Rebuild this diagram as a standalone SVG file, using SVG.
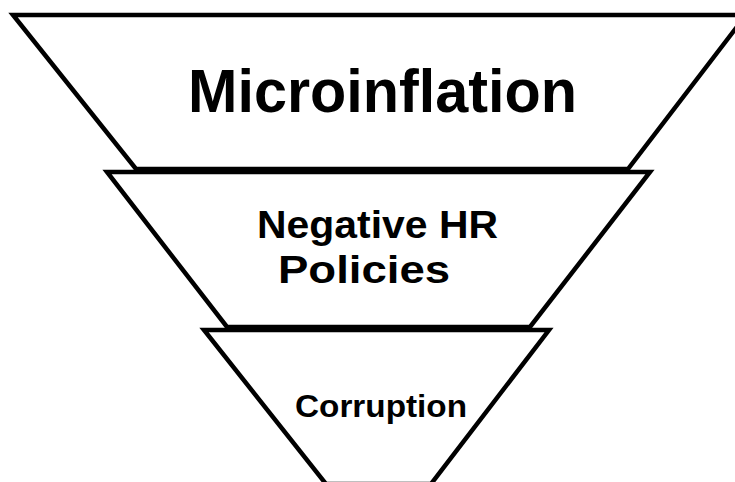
<svg xmlns="http://www.w3.org/2000/svg" width="735" height="482" viewBox="0 0 735 482">
<style>
.tier{fill:#ffffff;stroke:#000000;stroke-width:4.5;stroke-linejoin:miter}
.lbl{font-family:"Liberation Sans",Arial,sans-serif;font-weight:bold;fill:#000000;text-anchor:middle}
</style>
<rect x="0" y="0" width="735" height="482" fill="#ffffff"/>
<g id="microinflation">
<polygon class="tier" points="13,15 746,15 628,169 136,169"/>
<text class="lbl" x="382.5" y="112" font-size="61" textLength="389" lengthAdjust="spacingAndGlyphs">Microinflation</text>
</g>
<g id="negative-hr-policies">
<polygon class="tier" points="107,172 650,172 530,327 227,327"/>
<text class="lbl" x="377.5" y="238" font-size="39" textLength="241" lengthAdjust="spacingAndGlyphs">Negative HR</text>
<text class="lbl" x="364" y="283" font-size="39" textLength="172" lengthAdjust="spacingAndGlyphs">Policies</text>
</g>
<g id="corruption">
<polygon class="tier" points="204,330 549,330 431,484 326,484"/>
<text class="lbl" x="381" y="417" font-size="31" textLength="172" lengthAdjust="spacingAndGlyphs">Corruption</text>
</g>
<g id="connectors"></g>
</svg>
